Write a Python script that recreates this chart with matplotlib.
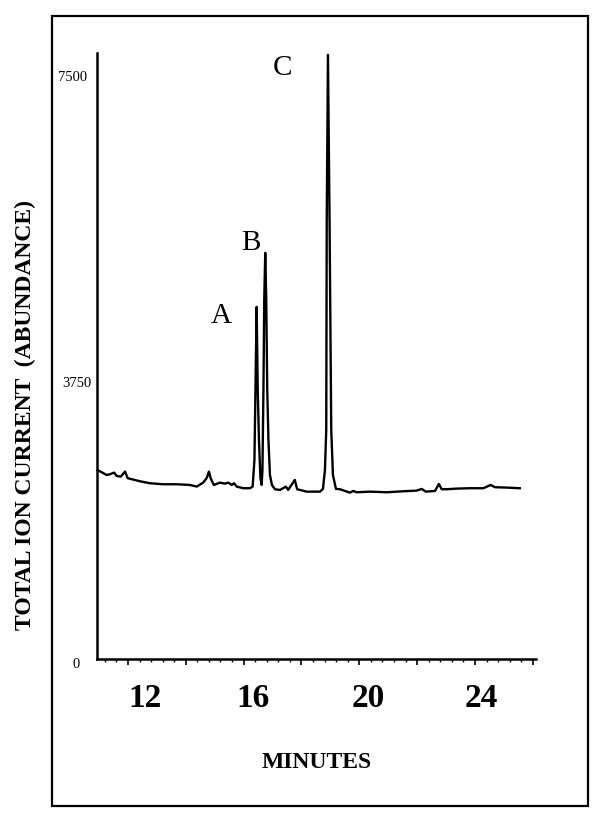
import matplotlib
matplotlib.use('Agg')
import matplotlib.pyplot as plt
import matplotlib.transforms as mtransforms
from matplotlib.patches import Rectangle
from matplotlib.ticker import MultipleLocator

plt.rcParams['font.family'] = ['Liberation Serif', 'DejaVu Serif']

# Chromatogram trace (minutes, abundance)
minutes = [10.94, 11.09, 11.26, 11.38, 11.52, 11.61, 11.75, 11.90, 11.99, 12.13,
           12.41, 12.76, 13.22, 13.68, 14.14, 14.38, 14.60, 14.72, 14.80, 14.86,
           14.97, 15.18, 15.35, 15.47, 15.59, 15.67, 15.76, 15.99, 16.22,
           16.312, 16.374, 16.409, 16.450, 16.488, 16.530, 16.581, 16.623,
           16.651, 16.685, 16.713, 16.748, 16.782, 16.817, 16.858, 16.910, 16.979, 17.083,
           17.26, 17.46, 17.54, 17.77, 17.85, 18.18, 18.64,
           18.743, 18.812, 18.857, 18.874, 18.916, 18.971, 19.030, 19.088, 19.192,
           19.33, 19.68, 19.79, 19.91, 20.37, 20.95, 21.52,
           21.98, 22.16, 22.30, 22.62, 22.75, 22.85, 23.02, 23.37, 23.83, 24.29,
           24.54, 24.69, 25.10, 25.55]
abundance = [2432, 2403, 2368, 2377, 2398, 2355, 2346, 2411, 2326, 2313,
             2287, 2261, 2248, 2248, 2239, 2218, 2269, 2326, 2411, 2326,
             2239, 2269, 2256, 2269, 2239, 2261, 2218, 2197, 2197,
             2218, 2561, 3462, 4530, 3462, 2818, 2329, 2239,
             2432, 3462, 4620, 5225, 4620, 3462, 2818, 2368, 2239, 2184,
             2175, 2218, 2175, 2304, 2184, 2153, 2153,
             2188, 2432, 2947, 5650, 7773, 5650, 2947, 2368, 2188,
             2184, 2140, 2162, 2145, 2153, 2145, 2158,
             2166, 2188, 2153, 2162, 2252, 2184, 2184, 2192, 2197, 2197,
             2239, 2210, 2205, 2197]

x_labels = {12: '12', 16: '16', 20: '20', 24: '24'}
y_ticks = [0, 3750, 7500]
peak_names = ['A', 'B', 'C']
peak_label_pos = [(15.22, 4414), (16.25, 5354), (17.33, 7606)]

fig = plt.figure(figsize=(6, 8.15), dpi=100)
ax = fig.add_axes([97 / 600, 1 - 659 / 815, 439 / 600, 606 / 815])

ax.plot(minutes, abundance, color='black', lw=1.7, clip_on=False)

for name, (t, v) in zip(peak_names, peak_label_pos):
    ax.text(t, v, name, fontsize=21, ha='center', va='center')

ax.set_xlim(10.93, 26.11)
ax.set_ylim(0, 7796)

ax.spines['top'].set_visible(False)
ax.spines['right'].set_visible(False)
ax.spines['left'].set_linewidth(1.8)
ax.spines['bottom'].set_linewidth(1.8)

# x axis: tall ticks every 2 min, small ones in between
major = list(range(12, 27, 2))
ax.set_xticks(major)
ax.set_xticklabels([x_labels.get(m, '') for m in major], fontsize=24, fontweight='bold')
ax.xaxis.set_minor_locator(MultipleLocator(0.4))
ax.tick_params(axis='x', which='major', direction='out', length=4, width=1.2, pad=13)
ax.tick_params(axis='x', which='minor', direction='out', length=2.2, width=1)

ax.set_yticks(y_ticks)
ax.set_yticklabels([str(v) for v in y_ticks], fontsize=10.5)
ax.tick_params(axis='y', length=0, pad=4)

# labels in the scan are not exactly on the tick positions
x_shift = {'12': 17, '16': 9, '20': 9, '24': 6}
for lab in ax.get_xticklabels():
    dx = x_shift.get(lab.get_text(), 0)
    lab.set_transform(lab.get_transform() + mtransforms.ScaledTranslation(dx / 100, 0, fig.dpi_scale_trans))
y_shift = {'7500': (-4, 0), '3750': (0, -14), '0': (-12, -4)}
for lab in ax.get_yticklabels():
    dx, dy = y_shift.get(lab.get_text(), (0, 0))
    lab.set_transform(lab.get_transform() + mtransforms.ScaledTranslation(dx / 100, dy / 100, fig.dpi_scale_trans))

ax.set_xlabel('MINUTES', fontsize=17, fontweight='bold', labelpad=28)
fig.text(25 / 600, 1 - 415 / 815, 'TOTAL ION CURRENT  (ABUNDANCE)', rotation=90,
         fontsize=17, fontweight='bold', ha='center', va='center')

# outer border of the figure panel
fig.patches.append(Rectangle((52 / 600, 1 - 806 / 815), 536 / 600, 790 / 815,
                             transform=fig.transFigure, fill=False, lw=1.6, color='black'))

fig.savefig('out.png', dpi=100)
